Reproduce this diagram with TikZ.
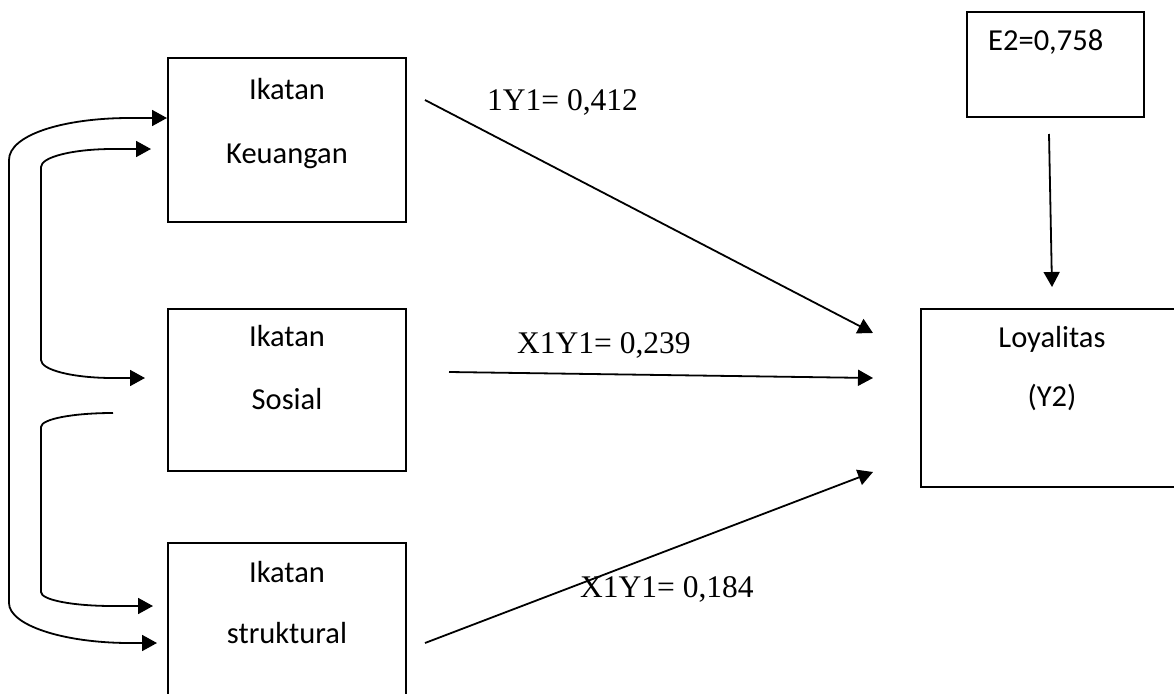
\documentclass[tikz,border=0pt]{standalone}
\usepackage{fontspec}
\setmainfont{Liberation Serif}
\newfontfamily\boxfont{Carlito}
\usetikzlibrary{arrows.meta}
\begin{document}
\begin{tikzpicture}[x=1pt,y=-1pt,
  box/.style={draw, line width=1.8pt, rectangle, inner sep=0pt, outer sep=0pt},
  boxtext/.style={font=\boxfont\fontsize{30.5}{36}\selectfont, anchor=base, inner sep=0pt},
  coef/.style={font=\fontsize{31.5}{38}\selectfont, anchor=base west, inner sep=0pt},
  tip/.tip={Triangle[length=15pt,width=16pt]},
  link/.style={line width=1.8pt, -tip},
  twoway/.style={line width=1.8pt, tip-tip},
]
\useasboundingbox (0,0) rectangle (1174,693);
\clip (0,0) rectangle (1174,693);

% variable boxes
\node[box, minimum width=238pt, minimum height=164pt] (keu) at (287,140) {};
\node[box, minimum width=238pt, minimum height=162pt] (sos) at (287,390) {};
\node[box, minimum width=238pt, minimum height=197pt] (str) at (287,641.5) {};
\node[box, minimum width=279pt, minimum height=178pt] (loy) at (1060.5,398) {};
\node[box, minimum width=177pt, minimum height=105pt] (err) at (1055.5,64.5) {};

% box labels
\node[boxtext] (keu1) at (287,99) {Ikatan};
\node[boxtext] (keu2) at (287,163) {Keuangan};
\node[boxtext] (sos1) at (287,346) {Ikatan};
\node[boxtext] (sos2) at (287,409) {Sosial};
\node[boxtext] (str1) at (287,582) {Ikatan};
\node[boxtext] (str2) at (287,643) {struktural};
\node[boxtext] (loy1) at (1052,347) {Loyalitas};
\node[boxtext] (loy2) at (1052,406) {(Y2)};
\node[boxtext, anchor=base west] (err1) at (988,51) {E2=0,758};

% path coefficients
\node[coef] (c1) at (487,110) {1Y1= 0,412};
\node[coef] (c2) at (517,353) {X1Y1= 0,239};
\node[coef] (c3) at (580,597) {X1Y1= 0,184};

% connector end points
\coordinate (a1s) at (425,100);
\coordinate (a1e) at (873,333);
\coordinate (a2s) at (449,372);
\coordinate (a2e) at (873,378);
\coordinate (a3s) at (425,643);
\coordinate (a3e) at (873,472);
\coordinate (a4s) at (1049,134);
\coordinate (a4e) at (1052,287);

\coordinate (ok) at (167,118);
\coordinate (os) at (157,643);
\coordinate (ik) at (151,149);
\coordinate (is) at (145,378);
\coordinate (js) at (113,413);
\coordinate (jt) at (153,606);

% direct paths to Loyalitas
\draw[link] (a1s) -- (a1e);
\draw[link] (a2s) -- (a2e);
\draw[link] (a3s) -- (a3e);
\draw[link] (a4s) -- (a4e);

% correlations between the predictors
\draw[twoway] (ok) -- (130,118) .. controls (63,118) and (9,135) .. (9,160)
  -- (9,603) .. controls (9,625) and (63,643) .. (130,643) -- (os);
\draw[twoway] (ik) -- (113,149) .. controls (73,149) and (41,157) .. (41,167)
  -- (41,360) .. controls (41,370) and (73,378) .. (113,378) -- (is);
\draw[link] (js) .. controls (73,413) and (41,419) .. (41,427)
  -- (41,592) .. controls (41,600) and (73,606) .. (113,606) -- (jt);
\end{tikzpicture}
\end{document}
